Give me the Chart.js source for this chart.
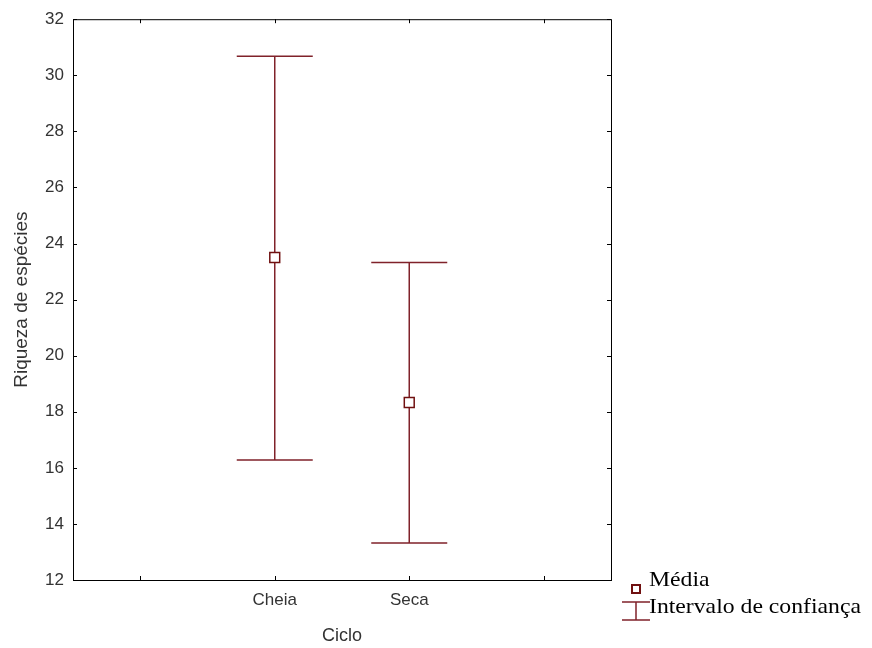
<!DOCTYPE html>
<html>
<head>
<meta charset="utf-8">
<script src="https://cdn.jsdelivr.net/npm/chart.js@4/dist/chart.umd.min.js"></script>
<style>
    html, body { margin: 0; padding: 0; background: #fff; }
    #wrap { width: 872px; height: 648px; position: relative; }
</style>
</head>
<body>
<div id="wrap"><canvas id="ciChart"></canvas></div>
<script>
// dados
const categorias = ['', 'Cheia', 'Seca', ''];
const ciclos = ['Cheia', 'Seca'];
const medias = [23.5, 18.33];
const limSup = [30.68, 23.32];
const limInf = [16.28, 13.32];
const yTicks = [12, 14, 16, 18, 20, 22, 24, 26, 28, 30, 32];

const corIC = '#80222a';
const corMedia = '#701010';

// moldura + marcas para dentro
const boxPlugin = {
    id: 'boxTicks',
    afterDraw(chart) {
        const { ctx, chartArea: a, scales } = chart;
        ctx.save();
        ctx.strokeStyle = '#000';
        ctx.lineWidth = 1;
        ctx.strokeRect(a.left + 0.5, a.top + 0.5, a.right - a.left, a.bottom - a.top);
        ctx.beginPath();
        scales.x.ticks.forEach((t, i) => {
            const px = Math.round(scales.x.getPixelForTick(i)) + 0.5;
            ctx.moveTo(px, a.bottom); ctx.lineTo(px, a.bottom - 4);
            ctx.moveTo(px, a.top); ctx.lineTo(px, a.top + 4);
        });
        scales.y.ticks.forEach(t => {
            const py = Math.round(scales.y.getPixelForValue(t.value)) + 0.5;
            ctx.moveTo(a.left, py); ctx.lineTo(a.left + 4, py);
            ctx.moveTo(a.right, py); ctx.lineTo(a.right - 4, py);
        });
        ctx.stroke();
        ctx.restore();
    }
};

// barras de intervalo de confiança
const icPlugin = {
    id: 'intervalos',
    beforeDatasetsDraw(chart) {
        const { ctx, scales } = chart;
        ctx.save();
        ctx.strokeStyle = corIC;
        ctx.lineWidth = 1.5;
        ciclos.forEach((c, i) => {
            const x = scales.x.getPixelForValue(categorias.indexOf(c));
            const yt = scales.y.getPixelForValue(limSup[i]);
            const yb = scales.y.getPixelForValue(limInf[i]);
            const w = 38;
            ctx.beginPath();
            ctx.moveTo(x, yt); ctx.lineTo(x, yb);
            ctx.moveTo(x - w, yt); ctx.lineTo(x + w, yt);
            ctx.moveTo(x - w, yb); ctx.lineTo(x + w, yb);
            ctx.stroke();
        });
        ctx.restore();
    }
};

// legenda
const legendaPlugin = {
    id: 'legenda',
    afterDraw(chart) {
        const ctx = chart.ctx;
        ctx.save();
        ctx.fillStyle = '#fff';
        ctx.strokeStyle = corMedia;
        ctx.lineWidth = 2;
        ctx.fillRect(632, 585, 8, 8);
        ctx.strokeRect(632, 585, 8, 8);
        ctx.strokeStyle = corIC;
        ctx.lineWidth = 1.5;
        ctx.beginPath();
        ctx.moveTo(622, 602); ctx.lineTo(650, 602);
        ctx.moveTo(636, 602); ctx.lineTo(636, 620);
        ctx.moveTo(622, 620); ctx.lineTo(650, 620);
        ctx.stroke();
        ctx.fillStyle = '#000';
        ctx.font = '21px "Liberation Serif", "Times New Roman", serif';
        ctx.textBaseline = 'alphabetic';
        const sx = 212 / ctx.measureText('Intervalo de confiança').width;
        ctx.translate(649, 0);
        ctx.scale(sx, 1);
        ctx.fillText('Média', 0, 586);
        ctx.fillText('Intervalo de confiança', 0, 613);
        ctx.restore();
    }
};

const tickFont = { family: '"Liberation Sans", Arial, sans-serif', size: 17 };

new Chart(document.getElementById('ciChart'), {
    type: 'line',
    data: {
        labels: categorias,
        datasets: [{
            label: 'Média',
            data: ciclos.map((c, i) => ({ x: c, y: medias[i] })),
            showLine: false,
            pointStyle: 'rect',
            pointRadius: 7,
            pointBorderWidth: 1.5,
            pointBorderColor: corMedia,
            pointBackgroundColor: '#fff'
        }]
    },
    options: {
        responsive: true,
        maintainAspectRatio: false,
        animation: false,
        layout: {
            padding: { left: 0, top: 18, right: 261, bottom: 0 }
        },
        plugins: {
            legend: { display: false },
            tooltip: { enabled: false }
        },
        scales: {
            x: {
                type: 'category',
                offset: true,
                grid: { display: false, drawTicks: false },
                border: { display: false },
                ticks: { color: '#333', font: tickFont, padding: 10, maxRotation: 0, autoSkip: false },
                title: {
                    display: true,
                    text: 'Ciclo',
                    color: '#333',
                    font: { family: tickFont.family, size: 18 },
                    padding: { top: 1, bottom: 1 }
                },
                afterFit(s) { s.height = 68; }
            },
            y: {
                min: 12,
                max: 32,
                afterBuildTicks(s) { s.ticks = yTicks.map(v => ({ value: v })); },
                grid: { display: false, drawTicks: false },
                border: { display: false },
                ticks: { color: '#333', font: tickFont, padding: 9 },
                title: {
                    display: true,
                    text: 'Riqueza de espécies',
                    color: '#333',
                    font: { family: tickFont.family, size: 19 },
                    padding: { top: 10, bottom: 10 }
                },
                afterFit(s) { s.width = 73; }
            }
        }
    },
    plugins: [icPlugin, boxPlugin, legendaPlugin]
});
</script>
</body>
</html>
